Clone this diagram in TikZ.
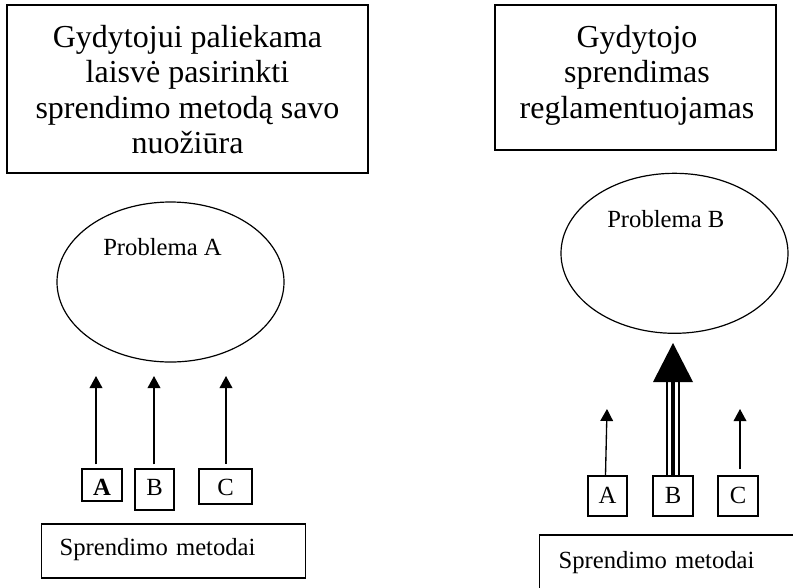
\documentclass[tikz,border=0pt]{standalone}
\usepackage{fontspec}
\setmainfont{Liberation Serif}
\usetikzlibrary{arrows.meta,shapes.geometric}
\begin{document}
\begin{tikzpicture}[x=0.75pt,y=-0.75pt,
  box/.style={draw, line width=0.9pt, inner sep=0pt},
  bigtxt/.style={font=\fontsize{24pt}{26.5pt}\selectfont, align=center, inner sep=0pt},
  smalltxt/.style={font=\fontsize{18.5pt}{22pt}\selectfont},
  ell/.style={draw, ellipse, line width=0.9pt, minimum width=170.25pt, minimum height=120pt, inner sep=0pt},
  letterbox/.style={box, smalltxt, inner sep=0pt, anchor=base},
  arr/.style={line width=1pt, -{Triangle[length=9pt,width=9.5pt]}}
]
\useasboundingbox (0,0) rectangle (793,587);
\clip (0,0) rectangle (793,587);
\fill[white] (0,0) rectangle (793,587);

% top boxes
\node[box, minimum width=270.75pt, minimum height=126pt] (LT) at (187.5,89) {};
\node[bigtxt, anchor=north] (LTt) at (187.5,25) {Gydytojui paliekama\\laisvė pasirinkti\\sprendimo metodą savo\\nuožiūra};
\node[box, minimum width=210.75pt, minimum height=108.75pt] (RT) at (635.5,77.5) {};
\node[bigtxt, anchor=north] (RTt) at (637,25) {Gydytojo\\sprendimas\\reglamentuojamas};

% ellipses
\node[ell] (EA) at (170.5,282) {};
\node[smalltxt, anchor=base west, inner sep=0pt] (EAt) at (103,255) {Problema A};
\node[ell] (EB) at (674.5,253.3) {};
\node[smalltxt, anchor=base west, inner sep=0pt] (EBt) at (607,227) {Problema B};

% letter boxes left
\node[letterbox, minimum width=30pt, text height=19.5pt, text depth=4.5pt] (lA) at (102,495) {\textbf{A}};
\node[letterbox, minimum width=29.25pt, text height=19.5pt, text depth=11.25pt] (lB) at (154.5,495) {B};
\node[letterbox, minimum width=39.75pt, text height=19.5pt, text depth=6.75pt] (lC) at (225.5,495) {C};

% letter boxes right
\node[letterbox, minimum width=29.25pt, text height=20.25pt, text depth=9.75pt] (rA) at (607.5,503) {A};
\node[letterbox, minimum width=30pt, text height=20.25pt, text depth=9.75pt] (rB) at (673,503) {B};
\node[letterbox, minimum width=30pt, text height=20.25pt, text depth=9.75pt] (rC) at (738,503) {C};

% method boxes
\node[box, smalltxt, anchor=base west, inner xsep=13.5pt, inner ysep=0pt, text width=171pt, align=left, text height=23.25pt, text depth=17.25pt] (LS) at (41,555) {Sprendimo metodai};
\node[box, smalltxt, anchor=base west, inner xsep=14.25pt, inner ysep=0pt, text width=190pt, align=left, text height=24.75pt, text depth=30pt] (RS) at (539,568) {Sprendimo metodai};

% left arrows
\coordinate (tlA) at (96,376);
\coordinate (tlB) at (154,376);
\coordinate (tlC) at (226,376);
\draw[arr, shorten <=3pt] (tlA |- lA.north) -- (tlA);
\draw[arr, shorten <=3pt] (tlB |- lB.north) -- (tlB);
\draw[arr, shorten <=3.5pt] (tlC |- lC.north) -- (tlC);

% right thin arrows
\coordinate (trA) at (607,409);
\coordinate (trC) at (740,409);
\draw[arr] ([xshift=-1.5pt]rA.north) -- (trA);
\draw[arr, shorten <=4.5pt] (trC |- rC.north) -- (trC);

% big triple arrow
\coordinate (hB) at (673,382);
\coordinate (tipB) at (673,343);
\draw[line width=10.5pt] (rB.north) -- (hB);
\draw[white, line width=7.5pt, shorten <=0.5pt] (rB.north) -- (hB);
\draw[line width=3.2pt] (rB.north) -- (hB);
\fill (tipB) -- ([xshift=-15pt]hB) -- ([xshift=15pt]hB) -- cycle;
\end{tikzpicture}
\end{document}
